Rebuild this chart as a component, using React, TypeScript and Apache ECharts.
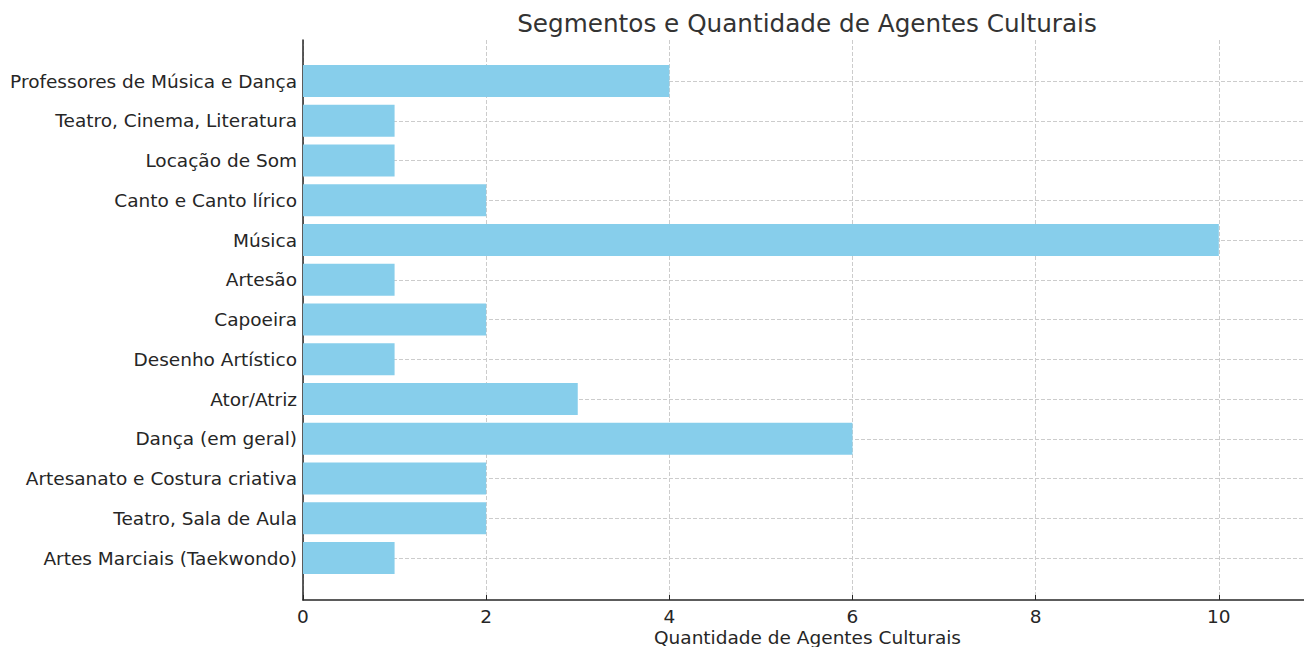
import React, { useEffect, useRef } from "react";
import * as echarts from "echarts";

const categories = [
  "Professores de Música e Dança",
  "Teatro, Cinema, Literatura",
  "Locação de Som",
  "Canto e Canto lírico",
  "Música",
  "Artesão",
  "Capoeira",
  "Desenho Artístico",
  "Ator/Atriz",
  "Dança (em geral)",
  "Artesanato e Costura criativa",
  "Teatro, Sala de Aula",
  "Artes Marciais (Taekwondo)",
];
const values = [4, 1, 1, 2, 10, 1, 2, 1, 3, 6, 2, 2, 1];
const xMin = 0;
const xMax = 10.93;
const xInterval = 2;

const FONT = "DejaVu Sans";
const TEXT = "#262626";
const GRID_LINE = { color: "#cccccc", type: [4, 2] as any, width: 1 };

export default function App() {
  const ref = useRef<HTMLDivElement>(null);
  useEffect(() => {
    if (!ref.current) return;
    const chart = echarts.init(ref.current, undefined, { renderer: "svg" });
    chart.setOption({
      animation: false,
      textStyle: { fontFamily: FONT },
      title: {
        text: "Segmentos e Quantidade de Agentes Culturais",
        left: 802,
        top: 6,
        textAlign: "center",
        textStyle: { fontFamily: FONT, fontSize: 24.7, fontWeight: "normal", color: "#333333" },
      },
      grid: [
        { left: 303, right: 0, top: 40, height: 560, containLabel: false, outerBoundsMode: "none" },
        { left: 303, right: 0, top: 81, height: 477, containLabel: false, outerBoundsMode: "none" },
      ],
      xAxis: [
        {
          gridIndex: 0,
          type: "value",
          min: xMin,
          max: xMax,
          interval: xInterval,
          name: "Quantidade de Agentes Culturais",
          nameLocation: "middle",
          nameGap: 37,
          nameMoveOverlap: false,
          nameTextStyle: {
            fontFamily: FONT,
            fontSize: 18.5,
            color: TEXT,
            padding: [0, 0, 0, 8],
            verticalAlign: "middle",
          },
          axisLine: { show: true, lineStyle: { color: "#262626", width: 1.5 } },
          axisTick: { show: true, inside: true, length: 5, lineStyle: { color: "#262626" } },
          axisLabel: {
            fontFamily: FONT,
            fontSize: 18.5,
            color: TEXT,
            margin: 7,
            showMaxLabel: false,
          },
          splitLine: { show: true, lineStyle: GRID_LINE },
        },
        {
          gridIndex: 1,
          type: "value",
          min: xMin,
          max: xMax,
          show: false,
          splitLine: { show: false },
        },
      ],
      yAxis: [
        {
          gridIndex: 0,
          type: "value",
          min: 0,
          max: 1,
          axisLine: { show: true, lineStyle: { color: "#262626", width: 1.5 } },
          axisTick: { show: false },
          axisLabel: { show: false },
          splitLine: { show: false },
        },
        {
          gridIndex: 1,
          type: "category",
          data: categories,
          inverse: true,
          boundaryGap: false,
          axisLine: { show: false },
          axisTick: { show: true, inside: true, length: 5, lineStyle: { color: "#262626" } },
          axisLabel: { fontFamily: FONT, fontSize: 18.5, color: TEXT, margin: 6, interval: 0 },
          splitLine: { show: true, lineStyle: GRID_LINE, interval: 0 },
        },
      ],
      series: [
        {
          type: "bar",
          xAxisIndex: 1,
          yAxisIndex: 1,
          data: values,
          barWidth: 32,
          itemStyle: { color: "#87CEEB" },
        },
      ],
    });
    return () => chart.dispose();
  }, []);
  return (
    <div
      ref={ref}
      style={{ position: "fixed", left: 0, top: 0, width: 1304, height: 647, background: "#fff" }}
    />
  );
}
